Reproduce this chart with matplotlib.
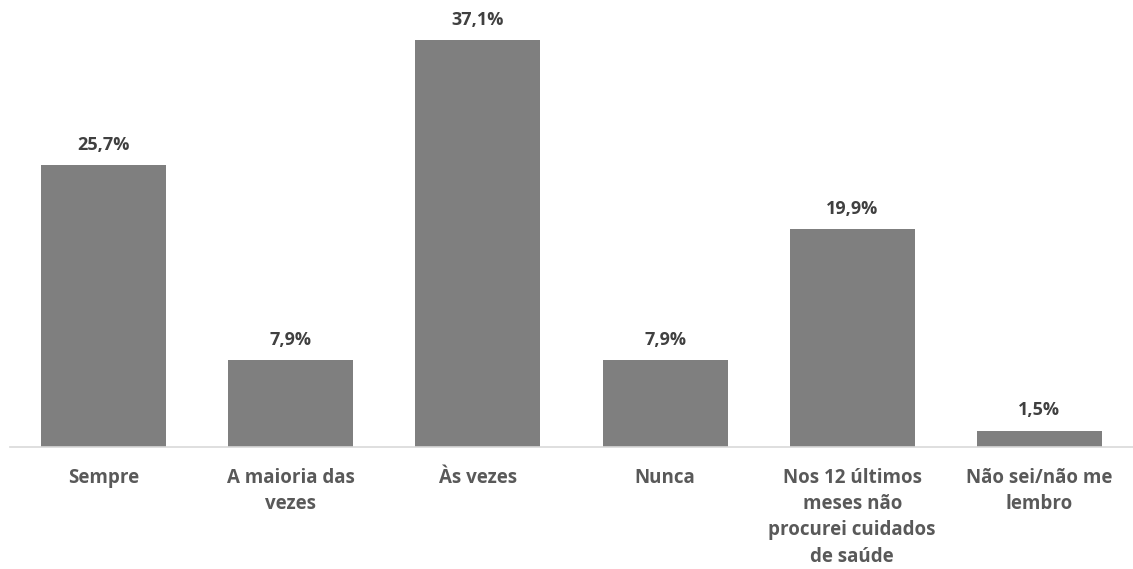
import matplotlib
matplotlib.use("Agg")
import matplotlib.pyplot as plt

categories = ["Sempre", "A maioria das\nvezes", "Às vezes", "Nunca",
              "Nos 12 últimos\nmeses não\nprocurei cuidados\nde saúde",
              "Não sei/não me\nlembro"]
values = [25.7, 7.9, 37.1, 7.9, 19.9, 1.5]
value_labels = ["25,7%", "7,9%", "37,1%", "7,9%", "19,9%", "1,5%"]

plt.rcParams['font.family'] = ['Open Sans', 'DejaVu Sans']

fig = plt.figure(figsize=(11.33, 5.69), dpi=100)
ax = fig.add_axes([10 / 1133, (569 - 447) / 569, 1 - 10 / 1133, 447 / 569])

x = list(range(len(categories)))
bars = ax.bar(x, values, width=0.667, color="#7F7F7F", zorder=2)

for b, lab in zip(bars, value_labels):
    ax.annotate(lab, (b.get_x() + b.get_width() / 2, b.get_height()),
                xytext=(0, 8), textcoords="offset points",
                ha="center", va="bottom", fontsize=13, fontweight="bold",
                color="#404040")

ax.set_xlim(-0.5, 5.5)
ax.set_ylim(0, 40.75)
ax.set_xticks(x)
ax.set_xticklabels(categories, fontsize=13.5, fontweight="bold",
                   color="#595959", linespacing=1.42)
ax.tick_params(axis="x", length=0, pad=15)
ax.set_yticks([])
for s in ["top", "right", "left"]:
    ax.spines[s].set_visible(False)
ax.spines["bottom"].set_color("#D9D9D9")
ax.spines["bottom"].set_linewidth(1.2)

fig.savefig("out.png", dpi=100)
